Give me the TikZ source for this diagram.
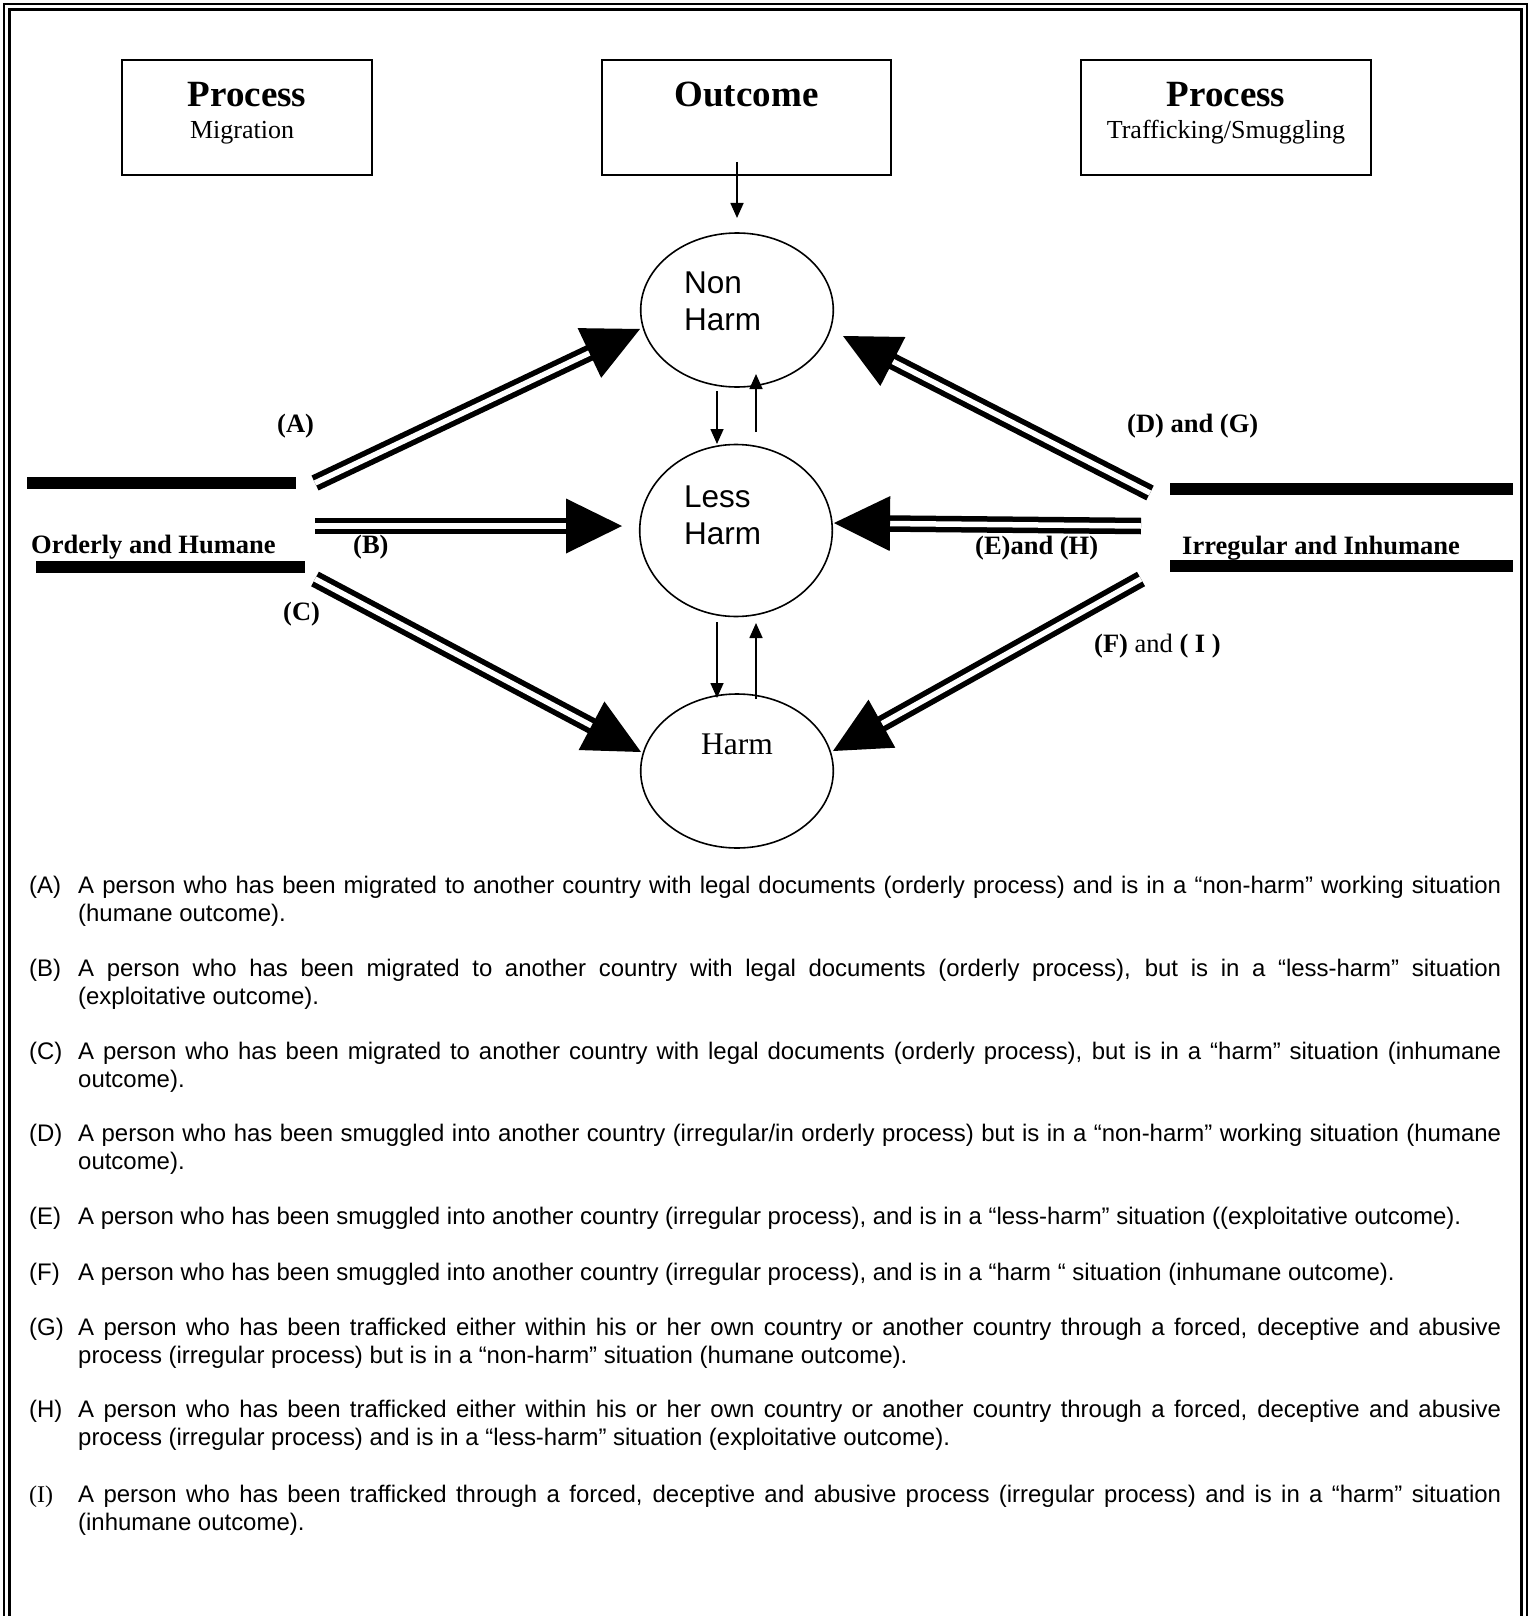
\documentclass[tikz,border=0pt]{standalone}
\usepackage{fontspec}
\setmainfont{Liberation Serif}
\newfontfamily\arialfont{Liberation Sans}
\usetikzlibrary{calc,arrows.meta,shapes.geometric}

\tikzset{
  boxnode/.style={draw, line width=2pt, inner sep=0pt},
  oval/.style={draw, ellipse, line width=1.6pt, inner sep=0pt},
  barline/.style={line width=12pt},
  shaft/.style={draw, line width=5.5pt, double=white, double distance=5.5pt},
  smallarrow/.style={line width=1.6pt, -{Triangle[length=15pt,width=13pt]}},
  boldlbl/.style={font=\fontsize{26.5}{30}\selectfont\bfseries, inner sep=0pt, anchor=base west},
  headlbl/.style={font=\fontsize{37}{42}\selectfont\bfseries, inner sep=0pt, anchor=base},
  sublbl/.style={font=\fontsize{26}{30}\selectfont, inner sep=0pt, anchor=base},
  sanslbl/.style={font=\arialfont\fontsize{31.5}{36}\selectfont, inner sep=0pt, anchor=base west},
  parlbl/.style={font=\arialfont\fontsize{23.95}{28}\selectfont, inner sep=0pt, anchor=base west},
  partext/.style={font=\arialfont\fontsize{23.95}{28}\selectfont, inner sep=0pt, anchor=base west,
     text width=1423pt, align=justify},
}

\newcommand{\bigarrow}[2]{%
  \coordinate (hb) at ($(#2)!56pt!(#1)$);
  \coordinate (hs) at ($(#2)!54pt!(#1)$);
  \path[shaft] (#1) -- (hs);
  \fill (#2) -- ($(hb)!27.5pt!90:(#2)$) -- ($(hb)!27.5pt!-90:(#2)$) -- cycle;
}

\begin{document}
\begin{tikzpicture}[x=1pt,y=-1pt]
\useasboundingbox (0,0) rectangle (1534,1616);
\fill[white] (0,0) rectangle (1534,1616);

% page border (open at the bottom)
\draw[line width=2pt] (4,1630) -- (4,4) -- (1526.5,4) -- (1526.5,1630);
\draw[line width=3pt] (9.5,1630) -- (9.5,10) -- (1521,10) -- (1521,1630);

% top boxes
\node[boxnode, minimum width=250pt, minimum height=115.5pt] (procL) at (247,117.5) {};
\node[boxnode, minimum width=289pt, minimum height=115.5pt] (outc) at (746.5,117.5) {};
\node[boxnode, minimum width=290pt, minimum height=115.5pt] (procR) at (1226,117.5) {};
\node[headlbl] (procLt) at (247,106.5) {Process};
\node[sublbl] (procLs) at (242,139) {Migration};
\node[headlbl] (outct) at (746.5,106.5) {Outcome};
\node[headlbl] (procRt) at (1226,106.5) {Process};
\node[sublbl] (procRs) at (1226,139) {Trafficking/Smuggling};

% ellipses
\node[oval, minimum width=192.6pt, minimum height=154pt] (nonharm) at (737,310) {};
\node[oval, minimum width=192.6pt, minimum height=172pt] (lessharm) at (736,530.5) {};
\node[oval, minimum width=192.6pt, minimum height=154pt] (harm) at (737,771) {};
\node[sanslbl] (nht1) at (684,293) {Non};
\node[sanslbl] (nht2) at (684,330) {Harm};
\node[sanslbl] (lht1) at (684,507) {Less};
\node[sanslbl] (lht2) at (684,544) {Harm};
\node[font=\fontsize{31.5}{36}\selectfont, inner sep=0pt, anchor=base] (hht) at (737,754) {Harm};

% small arrows
\coordinate (o1) at (737,162);
\coordinate (o2) at (737,218);
\draw[smallarrow] (o1) -- (o2);
\coordinate (a1) at (717,391);
\coordinate (a2) at (717,444);
\draw[smallarrow] (a1) -- (a2);
\coordinate (b1) at (756,432);
\coordinate (b2) at (756,374);
\draw[smallarrow] (b1) -- (b2);
\coordinate (c1) at (717,622);
\coordinate (c2) at (717,698);
\draw[smallarrow] (c1) -- (c2);
\coordinate (d1) at (756,699);
\coordinate (d2) at (756,623);
\draw[smallarrow] (d1) -- (d2);

% thick bars
\draw[barline] (27,483) -- (296,483);
\draw[barline] (36,567) -- (305,567);
\draw[barline] (1170,489) -- (1513,489);
\draw[barline] (1170,566) -- (1513,566);

% big double arrows
\coordinate (tA) at (315,483);   \coordinate (hA) at (640,329);
\coordinate (tB) at (315,526);   \coordinate (hB) at (622,526);
\coordinate (tC) at (315,579);   \coordinate (hC) at (641,752);
\coordinate (tD) at (1150,493);  \coordinate (hD) at (843,336);
\coordinate (tE) at (1141,526);  \coordinate (hE) at (834,523);
\coordinate (tF) at (1141,579);  \coordinate (hF) at (833,751);
\bigarrow{tA}{hA}
\bigarrow{tB}{hB}
\bigarrow{tC}{hC}
\bigarrow{tD}{hD}
\bigarrow{tE}{hE}
\bigarrow{tF}{hF}

% labels
\node[boldlbl] (lA) at (277,432) {(A)};
\node[boldlbl] (lB) at (353,553) {(B)};
\node[boldlbl] (lC) at (283,620) {(C)};
\node[boldlbl] (lOH) at (31,553) {Orderly and Humane};
\node[boldlbl] (lII) at (1182,554) {Irregular and Inhumane};
\node[boldlbl] (lDG) at (1127,432) {(D) and (G)};
\node[boldlbl] (lEH) at (975,554) {(E)and (H)};
\node[boldlbl, font=\fontsize{26.5}{30}\selectfont] (lFI) at (1094,652) {\textbf{(F)} and \textbf{( I )}};

% legend paragraphs
\node[parlbl] (pA) at (29,893) {(A)};
\node[partext] (tAx) at (78,893) {\hyphenpenalty=10000\tolerance=9999 A person who has been migrated to another country with legal documents (orderly process) and is in a “non-harm” working situation\linebreak (humane outcome).};
\node[parlbl] (pB) at (29,976.5) {(B)};
\node[partext] (tBx) at (78,976.5) {\hyphenpenalty=10000\tolerance=9999 A person who has been migrated to another country with legal documents (orderly process), but is in a “less-harm” situation\linebreak (exploitative outcome).};
\node[parlbl] (pC) at (29,1059) {(C)};
\node[partext] (tCx) at (78,1059) {\hyphenpenalty=10000\tolerance=9999 A person who has been migrated to another country with legal documents (orderly process), but is in a “harm” situation (inhumane\linebreak outcome).};
\node[parlbl] (pD) at (29,1141.5) {(D)};
\node[partext] (tDx) at (78,1141.5) {\hyphenpenalty=10000\tolerance=9999 A person who has been smuggled into another country (irregular/in orderly process) but is in a “non-harm” working situation (humane\linebreak outcome).};
\node[parlbl] (pE) at (29,1224) {(E)};
\node[partext] (tEx) at (78,1224) {\hyphenpenalty=10000\tolerance=9999 A person who has been smuggled into another country (irregular process), and is in a “less-harm” situation ((exploitative outcome).};
\node[parlbl] (pF) at (29,1280.5) {(F)};
\node[partext] (tFx) at (78,1280.5) {\hyphenpenalty=10000\tolerance=9999 A person who has been smuggled into another country (irregular process), and is in a “harm “ situation (inhumane outcome).};
\node[parlbl] (pG) at (29,1335.5) {(G)};
\node[partext] (tGx) at (78,1335.5) {\hyphenpenalty=10000\tolerance=9999 A person who has been trafficked either within his or her own country or another country through a forced, deceptive and abusive\linebreak process (irregular process) but is in a “non-harm” situation (humane outcome).};
\node[parlbl] (pH) at (29,1417.5) {(H)};
\node[partext] (tHx) at (78,1417.5) {\hyphenpenalty=10000\tolerance=9999 A person who has been trafficked either within his or her own country or another country through a forced, deceptive and abusive\linebreak process (irregular process) and is in a “less-harm” situation (exploitative outcome).};
\node[parlbl, font=\fontsize{23.95}{28}\selectfont] (pI) at (29,1502.5) {(I)};
\node[partext] (tIx) at (78,1502.5) {\hyphenpenalty=10000\tolerance=9999 A person who has been trafficked through a forced, deceptive and abusive process (irregular process) and is in a “harm” situation\linebreak (inhumane outcome).};
\end{tikzpicture}
\end{document}
